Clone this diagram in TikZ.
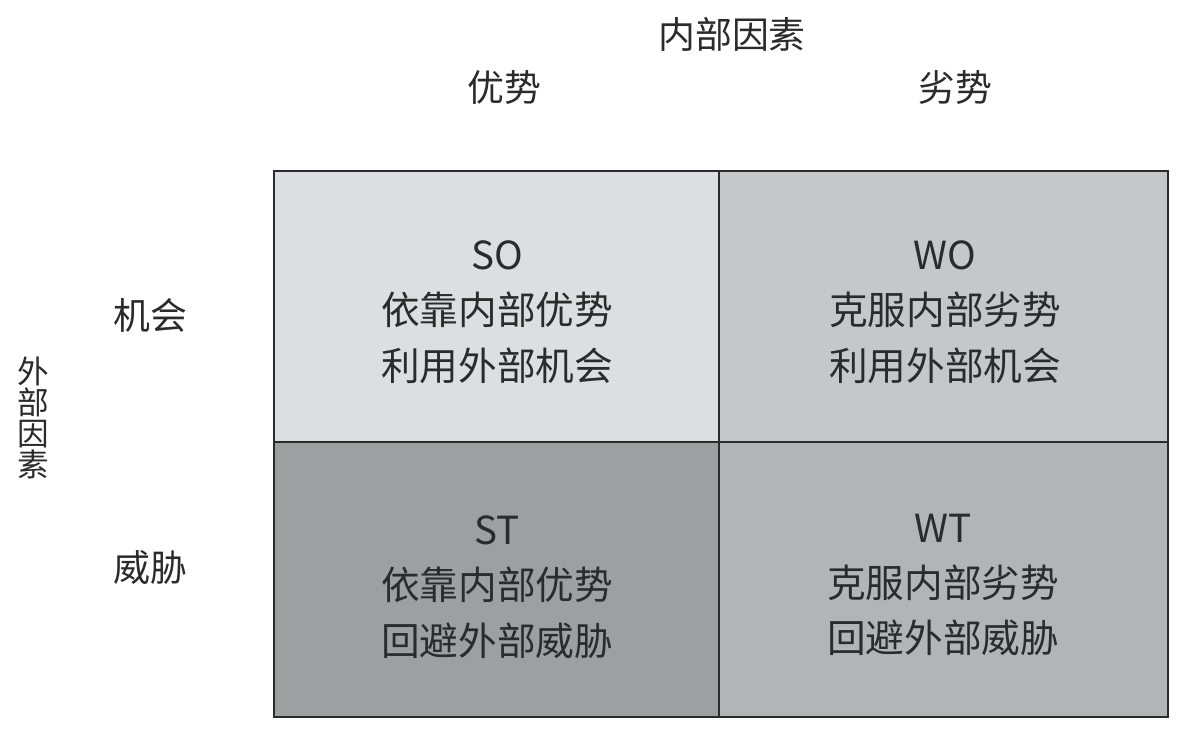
\documentclass[tikz,border=0pt]{standalone}
\usepackage{fontspec}
\setmainfont{Noto Sans CJK SC}
\definecolor{soFill}{HTML}{DCDEE1}
\definecolor{woFill}{HTML}{C6C7C9}
\definecolor{stFill}{HTML}{9D9FA1}
\definecolor{wtFill}{HTML}{B3B4B6}
\definecolor{lineGray}{HTML}{2B2B2B}
\begin{document}
\begin{tikzpicture}[
		x=0.02cm, y=-0.02cm,
		cell/.style={rectangle, draw=lineGray, line width=0.8pt, inner sep=0pt},
		celltext/.style={align=center, text=lineGray, inner sep=0pt, font=\fontsize{22}{31.5}\selectfont},
		head/.style={text=lineGray, inner sep=0pt, font=\fontsize{21}{31}\selectfont},
		side/.style={text=lineGray, inner sep=0pt, align=center, font=\fontsize{18}{17.6}\selectfont}
	]
		\useasboundingbox (0,0) rectangle (1180,743);
		
		% Cells
		\node[cell, fill=soFill, minimum width=8.9cm, minimum height=5.42cm] (so) at (496.5,306.5) {};
		\node[cell, fill=woFill, minimum width=8.98cm, minimum height=5.42cm] (wo) at (943.5,306.5) {};
		\node[cell, fill=stFill, minimum width=8.9cm, minimum height=5.5cm] (st) at (496.5,579.5) {};
		\node[cell, fill=wtFill, minimum width=8.98cm, minimum height=5.5cm] (wt) at (943.5,579.5) {};
		
		% Strategies
		\node[celltext] (soText) at (497,312) {SO\\依靠内部优势\\利用外部机会};
		\node[celltext] (woText) at (945,312) {WO\\克服内部劣势\\利用外部机会};
		\node[celltext] (stText) at (497,587) {ST\\依靠内部优势\\回避外部威胁};
		\node[celltext] (wtText) at (943,585) {WT\\克服内部劣势\\回避外部威胁};
		
		% Internal factors
		\node[head] (inner) at (732,34) {内部因素};
		\node[head] (strength) at (504,88) {优势};
		\node[head] (weakness) at (955,88) {劣势};
		
		% External factors
		\node[head] (chance) at (150,315) {机会};
		\node[head] (threat) at (150,568) {威胁};
		\node[side] (outer) at (33,418) {外\\部\\因\\素};
	\end{tikzpicture}
\end{document}
